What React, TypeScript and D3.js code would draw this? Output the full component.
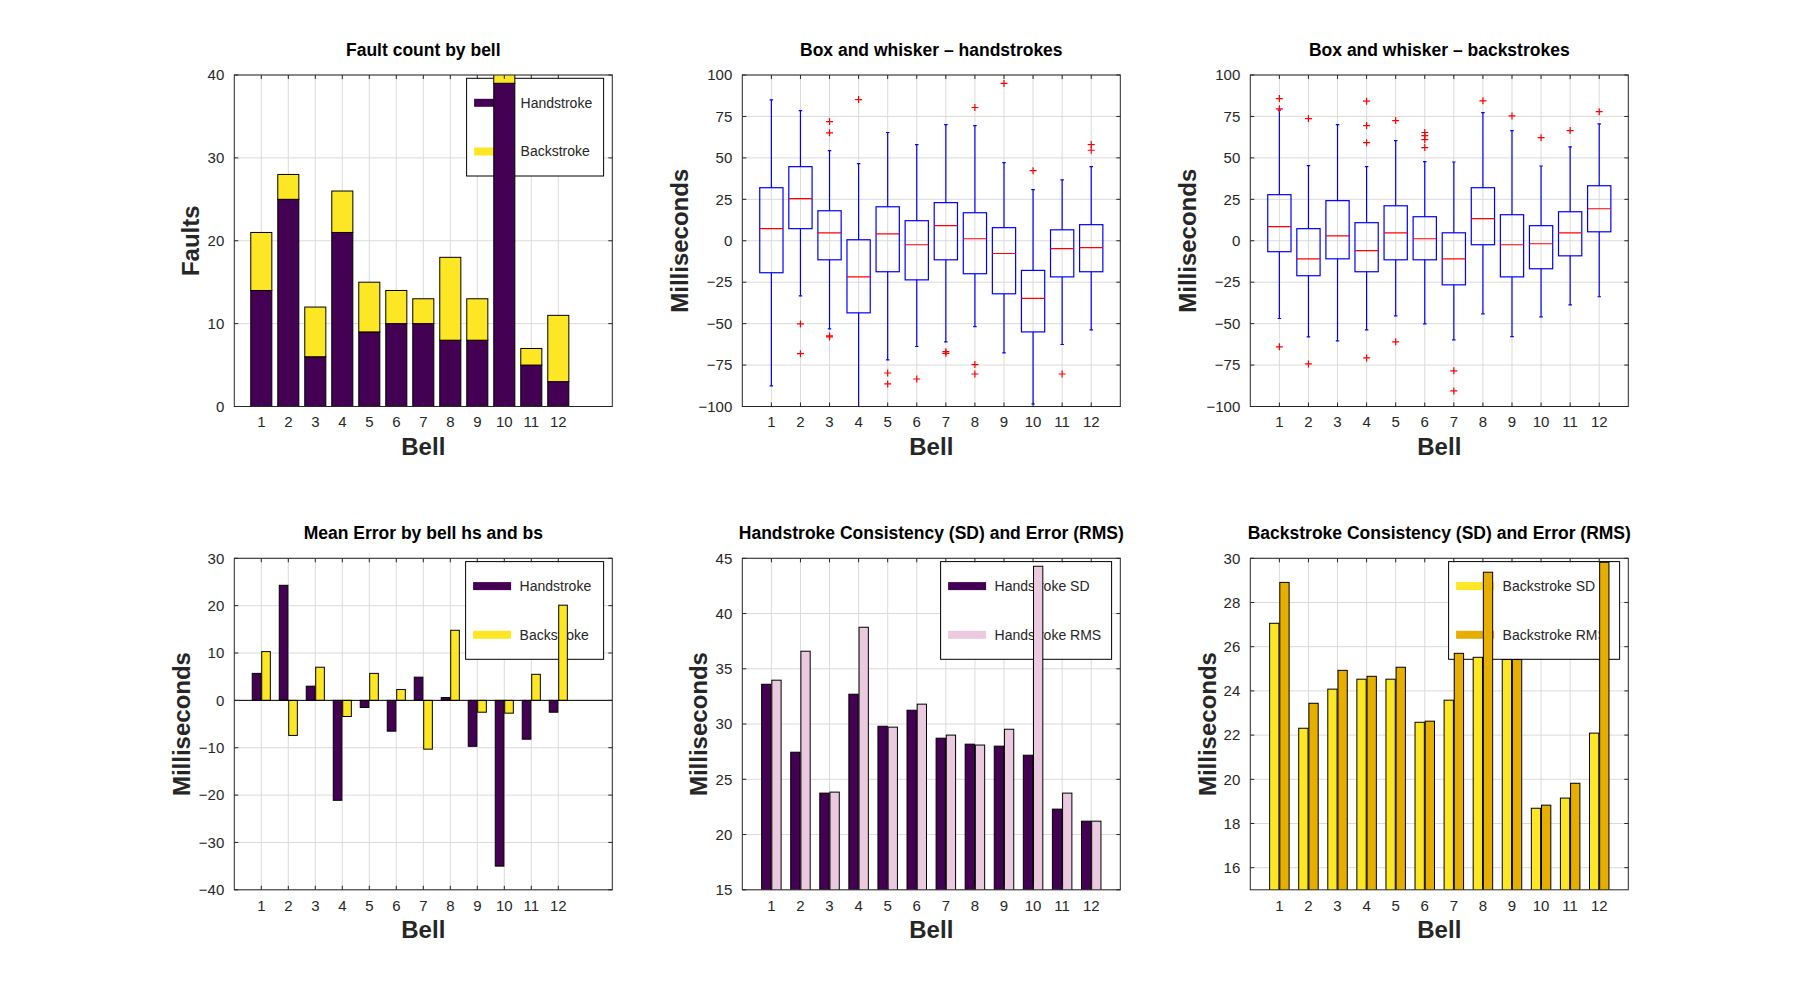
import React from 'react';
import * as d3 from 'd3';

// bell numbers shared by every panel
const bells = [1, 2, 3, 4, 5, 6, 7, 8, 9, 10, 11, 12];

// fault counts (stacked)
const faultHand = [14, 25, 6, 21, 9, 10, 10, 8, 8, 39, 5, 3];
const faultBack = [7, 3, 6, 5, 6, 4, 3, 10, 5, 2, 2, 8];

// box and whisker stats, handstrokes
const hsLow = [-87.6, -33.2, -53.2, -101, -71.9, -63.8, -61, -51.8, -67.7, -98.5, -62.6, -53.8];
const hsQ1 = [-19.3, 7.3, -11.5, -43.5, -18.7, -23.6, -11.5, -19.9, -32, -55, -21.8, -18.7];
const hsMed = [7.3, 25.4, 4.8, -21.8, 4.2, -2.4, 9.1, 1.2, -7.7, -34.8, -4.8, -4.2];
const hsQ3 = [32, 44.7, 18.1, 0.6, 20.5, 12.1, 23, 16.9, 7.9, -17.9, 6.6, 9.7];
const hsHigh = [85, 78.5, 54.4, 46.5, 65.3, 58, 70.1, 69.5, 47.1, 30.8, 36.7, 44.7];
const hsOut = [[], [-50.2, -68.1], [71.9, 65.1, -57.4, -58], [85.2], [-79.8, -86.4], [-83.4],
  [-66.9, -67.9], [80.4, -74.7, -80.4], [94.9], [42.3], [-80.4], [58, 54.6]];

// box and whisker stats, backstrokes
const bsLow = [-46.9, -58, -60.4, -53.8, -45.3, -50.2, -59.8, -44.1, -57.8, -45.9, -38.7, -33.8];
const bsQ1 = [-6.6, -21.1, -10.9, -18.7, -11.5, -11.5, -26.6, -2.4, -21.8, -16.9, -9.1, 5.4];
const bsMed = [8.5, -10.9, 3.0, -6, 4.8, 1.2, -10.9, 13.3, -2.4, -1.8, 4.8, 19.3];
const bsQ3 = [27.8, 7.3, 24.2, 10.9, 21.1, 14.5, 4.8, 32, 15.7, 9.1, 17.5, 33.2];
const bsHigh = [78.8, 45.3, 70.1, 44.7, 60.4, 47.7, 47.5, 77.3, 66.5, 45.1, 56.6, 70.5];
const bsOut = [[85.8, 79.6, -64], [73.7, -74.3], [], [84.2, 69.5, 59.2, -70.7], [72.5, -61],
  [65.3, 63.4, 61, 56.2], [-78.5, -90.6], [84.4], [75.3], [62.2], [66.5], [77.9]];

// mean error
const meanHand = [5.7, 24.3, 3.0, -21.1, -1.5, -6.5, 4.9, 0.6, -9.7, -35.0, -8.2, -2.5];
const meanBack = [10.3, -7.4, 7.0, -3.4, 5.7, 2.3, -10.3, 14.8, -2.5, -2.7, 5.5, 20.1];

// consistency / error
const hsSD = [33.6, 27.45, 23.75, 32.7, 29.8, 31.25, 28.72, 28.18, 28.0, 27.18, 22.3, 21.21];
const hsRMS = [33.97, 36.59, 23.84, 38.76, 29.72, 31.8, 29.0, 28.1, 29.53, 44.28, 23.75, 21.21];
const bsSD = [27.06, 22.31, 24.08, 24.53, 24.53, 22.58, 23.58, 25.52, 25.42, 18.69, 19.15, 22.09];
const bsRMS = [28.91, 23.44, 24.93, 24.66, 25.07, 22.63, 25.7, 29.37, 25.42, 18.83, 19.82, 29.82];

// y ticks
const faultTicks = [0, 10, 20, 30, 40];
const boxTicks = [-100, -75, -50, -25, 0, 25, 50, 75, 100];
const meanTicks = [-40, -30, -20, -10, 0, 10, 20, 30];
const hsTicks = [15, 20, 25, 30, 35, 40, 45];
const bsTicks = [16, 18, 20, 22, 24, 26, 28, 30];

const PURPLE = '#440154';
const YELLOW = '#fde725';
const PINK = '#ebc9df';
const GOLD = '#e6af00';
const INK = '#262626';
const GRID = '#dbdbdb';
const FONT = '"Liberation Sans", Arial, Helvetica, sans-serif';

const W = 378;
const H = 331.5;
const fmt = d3.format('d');

type Scale = d3.ScaleLinear<number, number>;

type LegendItem = { label: string; color: string };

const Legend = ({ width, items }: { width: number; items: LegendItem[] }) => {
  const left = W - 8.7 - width;
  const top = 3.3;
  return (
    <g transform={`translate(${left},${top})`}>
      <rect width={width} height={97.7} fill="#fff" stroke="#000" strokeWidth={1} />
      {items.map((it, i) => (
        <g key={it.label} transform={`translate(0,${24.5 + i * 48.7})`}>
          <rect x={7.5} y={-4} width={38} height={8} fill={it.color} />
          <text x={54} dy="0.35em" fontSize={14} fill={INK}>{it.label}</text>
        </g>
      ))}
    </g>
  );
};

type PanelProps = {
  id: string;
  left: number;
  top: number;
  xMax: number;
  yDomain: [number, number];
  yTicks: number[];
  title: string;
  ylabel: string;
  ylabelGap: number;
  legend?: { width: number; items: LegendItem[] };
  marks: (x: Scale, y: Scale) => React.ReactNode;
};

const Panel = ({ id, left, top, xMax, yDomain, yTicks, title, ylabel, ylabelGap, legend, marks }: PanelProps) => {
  const x = d3.scaleLinear().domain([0, xMax]).range([0, W]);
  const y = d3.scaleLinear().domain(yDomain).range([H, 0]);
  const tick = 4;
  return (
    <g transform={`translate(${left},${top})`} fontFamily={FONT}>
      <defs>
        <clipPath id={`clip-${id}`}>
          <rect width={W} height={H} />
        </clipPath>
      </defs>
      <rect width={W} height={H} fill="#fff" />
      {bells.map((b) => (
        <line key={`gx${b}`} x1={x(b)} x2={x(b)} y1={0} y2={H} stroke={GRID} />
      ))}
      {yTicks.map((t) => (
        <line key={`gy${t}`} x1={0} x2={W} y1={y(t)} y2={y(t)} stroke={GRID} />
      ))}
      {legend && <Legend width={legend.width} items={legend.items} />}
      <g clipPath={`url(#clip-${id})`}>{marks(x, y)}</g>
      <rect width={W} height={H} fill="none" stroke={INK} strokeWidth={1} />
      {bells.map((b) => (
        <g key={`tx${b}`}>
          <line x1={x(b)} x2={x(b)} y1={H} y2={H - tick} stroke={INK} />
          <line x1={x(b)} x2={x(b)} y1={0} y2={tick} stroke={INK} />
          <text x={x(b)} y={H + 15.7} dy="0.35em" textAnchor="middle" fontSize={15} fill={INK}>{b}</text>
        </g>
      ))}
      {yTicks.map((t) => (
        <g key={`ty${t}`}>
          <line x1={0} x2={tick} y1={y(t)} y2={y(t)} stroke={INK} />
          <line x1={W} x2={W - tick} y1={y(t)} y2={y(t)} stroke={INK} />
          <text x={-10} y={y(t)} dy="0.35em" textAnchor="end" fontSize={15} fill={INK}>{fmt(t)}</text>
        </g>
      ))}
      <text x={W / 2} y={-19.5} textAnchor="middle" fontSize={17.5} fontWeight="bold" fill="#000">{title}</text>
      <text x={W / 2} y={H + 48} textAnchor="middle" fontSize={24} fontWeight="bold" fill={INK}>Bell</text>
      <text transform={`translate(${-ylabelGap},${H / 2}) rotate(-90)`} textAnchor="middle" fontSize={24}
        fontWeight="bold" fill={INK}>{ylabel}</text>
    </g>
  );
};

// stacked faults
const stackedBars = (x: Scale, y: Scale) => {
  const bw = x(0.78) - x(0);
  return bells.map((b, i) => (
    <g key={b}>
      <rect x={x(b) - bw / 2} width={bw} y={y(faultHand[i])} height={y(0) - y(faultHand[i])}
        fill={PURPLE} stroke="#000" />
      <rect x={x(b) - bw / 2} width={bw} y={y(faultHand[i] + faultBack[i])}
        height={y(faultHand[i]) - y(faultHand[i] + faultBack[i])} fill={YELLOW} stroke="#000" />
    </g>
  ));
};

// grouped pair of bars per bell, rising from base
const groupedBars = (a: number[], b: number[], ca: string, cb: string, base: number, zeroLine: boolean) =>
  (x: Scale, y: Scale) => {
    const bw = x(0.32) - x(0);
    const off = x(0.175) - x(0);
    const bar = (v: number, cx: number, color: string, key: string) => (
      <rect key={key} x={cx - bw / 2} width={bw} y={Math.min(y(v), y(base))}
        height={Math.abs(y(v) - y(base))} fill={color} stroke="#000" />
    );
    return (
      <g>
        {bells.map((bell, i) => (
          <g key={bell}>
            {bar(a[i], x(bell) - off, ca, 'a')}
            {bar(b[i], x(bell) + off, cb, 'b')}
          </g>
        ))}
        {zeroLine && <line x1={0} x2={W} y1={y(0)} y2={y(0)} stroke="#000" />}
      </g>
    );
  };

const boxes = (low: number[], q1: number[], med: number[], q3: number[], high: number[], out: number[][]) =>
  (x: Scale, y: Scale) => {
    const hw = x(0.4) - x(0);
    const cw = x(0.06) - x(0);
    return bells.map((b, i) => {
      const cx = x(b);
      return (
        <g key={b} fill="none" strokeWidth={1.2}>
          <line x1={cx} x2={cx} y1={y(q3[i])} y2={y(high[i])} stroke="#0000ff" />
          <line x1={cx} x2={cx} y1={y(q1[i])} y2={y(low[i])} stroke="#0000ff" />
          <line x1={cx - cw} x2={cx + cw} y1={y(high[i])} y2={y(high[i])} stroke="#0000ff" />
          <line x1={cx - cw} x2={cx + cw} y1={y(low[i])} y2={y(low[i])} stroke="#0000ff" />
          <rect x={cx - hw} width={hw * 2} y={y(q3[i])} height={y(q1[i]) - y(q3[i])} stroke="#0000ff" />
          <line x1={cx - hw} x2={cx + hw} y1={y(med[i])} y2={y(med[i])} stroke="#ff0000" />
          {out[i].map((o, k) => (
            <path key={k} d={`M${cx - 3.5},${y(o)}h7M${cx},${y(o) - 3.5}v7`} stroke="#ff0000" />
          ))}
        </g>
      );
    });
  };

const COLS = [234.3, 742.3, 1250.3];
const ROWS = [75, 558.3];

export default function App() {
  return (
    <svg width={1800} height={1000} style={{ position: 'absolute', left: 0, top: 0, background: '#fff' }}>
      <Panel id="faults" left={COLS[0]} top={ROWS[0]} xMax={14} yDomain={[0, 40]} yTicks={faultTicks}
        title="Fault count by bell" ylabel="Faults" ylabelGap={35}
        legend={{ width: 137, items: [{ label: 'Handstroke', color: PURPLE }, { label: 'Backstroke', color: YELLOW }] }}
        marks={stackedBars} />
      <Panel id="boxhs" left={COLS[1]} top={ROWS[0]} xMax={13} yDomain={[-100, 100]} yTicks={boxTicks}
        title="Box and whisker – handstrokes" ylabel="Milliseconds" ylabelGap={54}
        marks={boxes(hsLow, hsQ1, hsMed, hsQ3, hsHigh, hsOut)} />
      <Panel id="boxbs" left={COLS[2]} top={ROWS[0]} xMax={13} yDomain={[-100, 100]} yTicks={boxTicks}
        title="Box and whisker – backstrokes" ylabel="Milliseconds" ylabelGap={54}
        marks={boxes(bsLow, bsQ1, bsMed, bsQ3, bsHigh, bsOut)} />
      <Panel id="mean" left={COLS[0]} top={ROWS[1]} xMax={14} yDomain={[-40, 30]} yTicks={meanTicks}
        title="Mean Error by bell hs and bs" ylabel="Milliseconds" ylabelGap={44}
        legend={{ width: 138, items: [{ label: 'Handstroke', color: PURPLE }, { label: 'Backstroke', color: YELLOW }] }}
        marks={groupedBars(meanHand, meanBack, PURPLE, YELLOW, 0, true)} />
      <Panel id="hssd" left={COLS[1]} top={ROWS[1]} xMax={13} yDomain={[15, 45]} yTicks={hsTicks}
        title="Handstroke Consistency (SD) and Error (RMS)" ylabel="Milliseconds" ylabelGap={35}
        legend={{ width: 171, items: [{ label: 'Handstroke SD', color: PURPLE }, { label: 'Handstroke RMS', color: PINK }] }}
        marks={groupedBars(hsSD, hsRMS, PURPLE, PINK, 0, false)} />
      <Panel id="bssd" left={COLS[2]} top={ROWS[1]} xMax={13} yDomain={[15, 30]} yTicks={bsTicks}
        title="Backstroke Consistency (SD) and Error (RMS)" ylabel="Milliseconds" ylabelGap={34.5}
        legend={{ width: 171, items: [{ label: 'Backstroke SD', color: YELLOW }, { label: 'Backstroke RMS', color: GOLD }] }}
        marks={groupedBars(bsSD, bsRMS, YELLOW, GOLD, 0, false)} />
    </svg>
  );
}
